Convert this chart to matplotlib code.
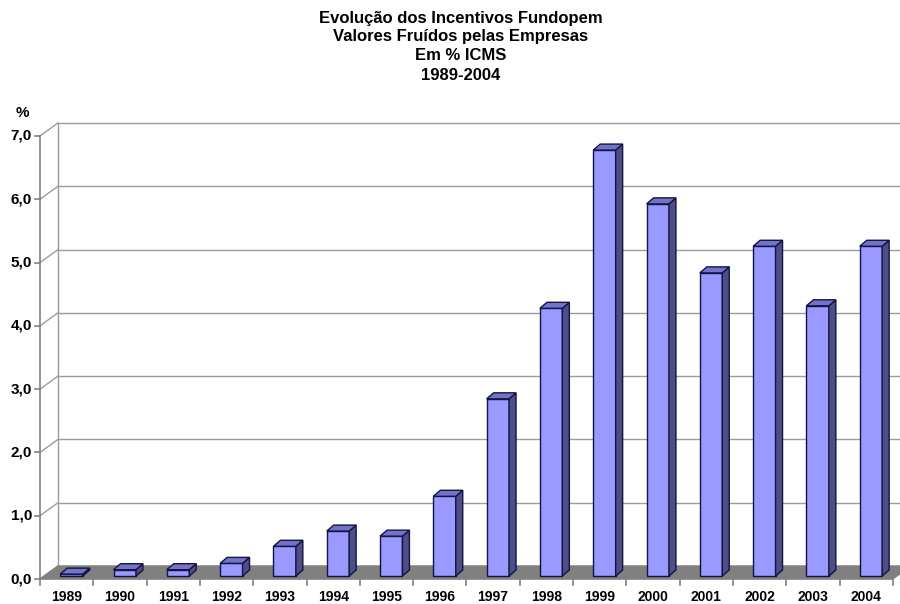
import matplotlib
matplotlib.use("Agg")
import matplotlib.pyplot as plt
from matplotlib.patches import Polygon

plt.rcParams['font.family'] = ['Liberation Sans', 'DejaVu Sans']

years = ["1989", "1990", "1991", "1992", "1993", "1994", "1995", "1996",
         "1997", "1998", "1999", "2000", "2001", "2002", "2003", "2004"]
values = [0.03, 0.10, 0.10, 0.20, 0.47, 0.71, 0.63, 1.26,
          2.80, 4.23, 6.73, 5.88, 4.79, 5.21, 4.27, 5.21]
yticks = [0, 1, 2, 3, 4, 5, 6, 7]
ytick_labels = ["0,0", "1,0", "2,0", "3,0", "4,0", "5,0", "6,0", "7,0"]
title_lines = ["Evolução dos Incentivos Fundopem",
               "Valores Fruídos pelas Empresas",
               "Em % ICMS",
               "1989-2004"]

W, H = 900, 604
fig = plt.figure(figsize=(9, 6.04), dpi=100)
px_x = 53.3   # px per category
px_y = 63.29  # px per unit
x0, y0 = 40, 579
ax = fig.add_axes([x0 / W, (H - y0) / H, (W - x0) / W, (y0 - 120) / H])
ax.set_xlim(0, (W - x0) / px_x)
ax.set_ylim(0, (y0 - 120) / px_y)
ax.axis('off')

dx, dy = 18 / px_x, 13 / px_y          # wall depth
n = len(years)
xend = n
grid_c = '#9C9C9C'

# back wall gridlines and side wall
for v in yticks:
    ax.plot([dx, xend + dx + 1], [v + dy, v + dy], color=grid_c, lw=1, clip_on=True, zorder=1)
    ax.plot([0, dx], [v, v + dy], color=grid_c, lw=1, zorder=1)
ax.plot([dx, dx], [dy, 7 + dy], color=grid_c, lw=1, zorder=1)

# floor
floor = Polygon([(0, 0), (xend, 0), (xend + dx, dy), (dx, dy)],
                closed=True, facecolor='#808080', edgecolor='#808080', zorder=2)
ax.add_patch(floor)

# bars
bd = 0.047          # base offset (bar depth position)
bw = 0.42           # front face width
sdx, sdy = 7 / px_x, 6 / px_y
edge = '#141440'
for i, v in enumerate(values):
    xl = i + 0.38
    xr = xl + bw
    yb, yt = bd, bd + v
    front = Polygon([(xl, yb), (xr, yb), (xr, yt), (xl, yt)], closed=True,
                    facecolor='#9999FF', edgecolor=edge, lw=1.0, zorder=3)
    side = Polygon([(xr, yb), (xr + sdx, yb + sdy), (xr + sdx, yt + sdy), (xr, yt)], closed=True,
                   facecolor='#4D4D88', edgecolor=edge, lw=1.0, zorder=3)
    top = Polygon([(xl, yt), (xr, yt), (xr + sdx, yt + sdy), (xl + sdx, yt + sdy)], closed=True,
                  facecolor='#7373CC', edgecolor=edge, lw=1.0, zorder=3)
    for p in (front, side, top):
        ax.add_patch(p)

# front axes
axis_c = '#808080'
ax.plot([0, 0], [0, 7], color=axis_c, lw=1.2, zorder=4, clip_on=False)
ax.plot([0, xend], [0, 0], color=axis_c, lw=1.2, zorder=4, clip_on=False)
for v, lab in zip(yticks, ytick_labels):
    ax.plot([-5 / px_x, 0], [v, v], color=axis_c, lw=1.2, clip_on=False, zorder=4)
    ax.text(-8 / px_x, v, lab, ha='right', va='center', fontsize=11, fontweight='bold', color='black')
for i in range(n + 1):
    ax.plot([i, i], [0, -6 / px_y], color=axis_c, lw=1.2, clip_on=False, zorder=4)
for i, lab in enumerate(years):
    ax.text(i + 0.5, -18 / px_y, lab, ha='center', va='center', fontsize=10, fontweight='bold')

# "%" label
fig.text(22 / W, 1 - 113 / H, "%", ha='center', va='center', fontsize=11, fontweight='bold')

# title
for k, line in enumerate(title_lines):
    fig.text(461 / W, 1 - (18 + 19 * k) / H, line, ha='center', va='center',
             fontsize=12, fontweight='bold')

fig.savefig("out.png", dpi=100)
